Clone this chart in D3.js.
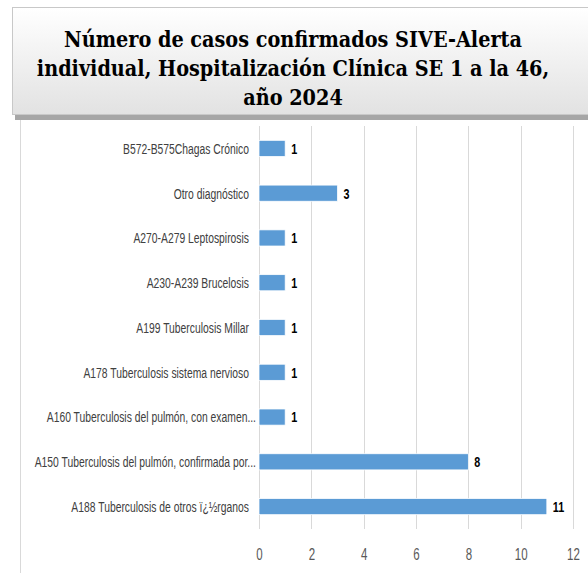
<!DOCTYPE html>
<html>
<head>
<meta charset="utf-8">
<script src="https://cdn.jsdelivr.net/npm/d3@7"></script>
<style>
  body { margin: 0; background: #fff; }
  svg { display: block; }
  .cat { font-family: "Liberation Sans", Arial, sans-serif; font-size: 15px; fill: #404040; }
  .val { font-family: "Liberation Sans", Arial, sans-serif; font-size: 15px; font-weight: bold; fill: #000; }
  .tick text { font-family: "Liberation Sans", Arial, sans-serif; font-size: 16px; fill: #595959; }
  .title { font-family: "DejaVu Serif Condensed", "Liberation Serif", serif; font-weight: bold; font-size: 21.4px; fill: #000; }
</style>
</head>
<body>
<div id="chart"></div>
<script>
// categories top to bottom, as in the picture
const categories = [
  "B572-B575Chagas Crónico",
  "Otro diagnóstico",
  "A270-A279 Leptospirosis",
  "A230-A239 Brucelosis",
  "A199 Tuberculosis Millar",
  "A178 Tuberculosis sistema nervioso",
  "A160 Tuberculosis del pulmón, con examen...",
  "A150 Tuberculosis del pulmón, confirmada por...",
  "A188 Tuberculosis de otros ï¿½rganos"
];
const casos = [1, 3, 1, 1, 1, 1, 1, 8, 11];
const xTicks = [0, 2, 4, 6, 8, 10, 12];
const titleLines = [
  "Número de casos confirmados SIVE-Alerta",
  "individual, Hospitalización Clínica SE 1 a la 46,",
  "año 2024"
];

const width = 588, height = 573;
// squeeze factors so Liberation Sans looks like the condensed font of the original
const catSqueeze = 0.69, valSqueeze = 0.72, tickSqueeze = 0.72;

const svg = d3.select("#chart").append("svg")
  .attr("width", width)
  .attr("height", height);

// left frame line
svg.append("line")
  .attr("x1", 20.5).attr("x2", 20.5)
  .attr("y1", 118).attr("y2", height)
  .attr("stroke", "#d9d9d9");

// title box with gradient and shadow
const defs = svg.append("defs");
const grad = defs.append("linearGradient")
  .attr("id", "tgrad").attr("x1", 0).attr("y1", 0).attr("x2", 0).attr("y2", 1);
grad.append("stop").attr("offset", "0%").attr("stop-color", "#ffffff");
grad.append("stop").attr("offset", "100%").attr("stop-color", "#e2e2e2");

svg.append("rect")
  .attr("x", 15).attr("y", 10)
  .attr("width", 590).attr("height", 110)
  .attr("fill", "#a6a6a6");
svg.append("rect")
  .attr("x", 12.5).attr("y", 7.5)
  .attr("width", 590).attr("height", 107)
  .attr("fill", "url(#tgrad)")
  .attr("stroke", "#c8c8c8");

svg.selectAll("text.title")
  .data(titleLines)
  .enter().append("text")
  .attr("class", "title")
  .attr("x", 293)
  .attr("y", (d, i) => 46.5 + i * 29)
  .attr("text-anchor", "middle")
  .text(d => d);

// chart
const margin = { top: 126, left: 259, right: 15, bottom: 44 };
const x = d3.scaleLinear()
  .domain([0, 12])
  .range([margin.left, 573]);
const y = d3.scaleBand()
  .domain(categories)
  .range([margin.top, height - margin.bottom])
  .paddingInner(0.64)
  .paddingOuter(0.32);

// grid
svg.append("g")
  .selectAll("line")
  .data(xTicks)
  .enter().append("line")
  .attr("x1", d => Math.round(x(d)) + 0.5)
  .attr("x2", d => Math.round(x(d)) + 0.5)
  .attr("y1", margin.top)
  .attr("y2", height - margin.bottom)
  .attr("stroke", "#d9d9d9");

// x axis labels
const xAxis = svg.append("g")
  .attr("transform", `translate(0, ${height - margin.bottom + 16})`)
  .call(d3.axisBottom(x).tickValues(xTicks).tickSize(0).tickPadding(4));
xAxis.select(".domain").remove();
xAxis.selectAll(".tick text").attr("transform", `scale(${tickSqueeze},1)`);

// bars
svg.selectAll("rect.bar")
  .data(casos)
  .enter().append("rect")
  .attr("class", "bar")
  .attr("x", x(0))
  .attr("y", (d, i) => y(categories[i]))
  .attr("width", d => x(d) - x(0))
  .attr("height", y.bandwidth())
  .attr("fill", "#5b9bd5")
  .attr("stroke", "#ffffff")
  .attr("stroke-width", 0.75);

// value labels
svg.selectAll("g.val")
  .data(casos)
  .enter().append("g")
  .attr("transform", (d, i) => `translate(${x(d) + 6},${y(categories[i]) + y.bandwidth() / 2}) scale(${valSqueeze},1)`)
  .append("text")
  .attr("class", "val")
  .attr("dy", "0.36em")
  .text(d => d);

// category labels (truncated ones sit a bit closer to the axis)
svg.selectAll("g.cat")
  .data(categories)
  .enter().append("g")
  .attr("transform", d => `translate(${x(0) - (d.endsWith("...") ? 3 : 10)},${y(d) + y.bandwidth() / 2}) scale(${catSqueeze},1)`)
  .append("text")
  .attr("class", "cat")
  .attr("dy", "0.36em")
  .attr("text-anchor", "end")
  .text(d => d);
</script>
</body>
</html>
